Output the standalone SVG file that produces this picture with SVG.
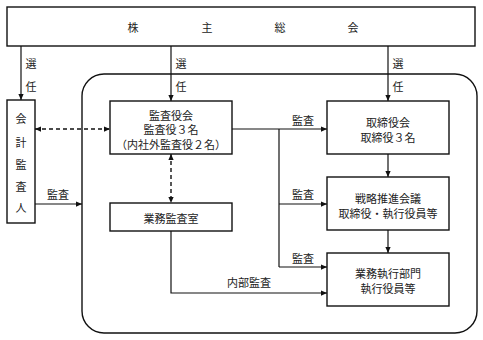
<svg xmlns="http://www.w3.org/2000/svg" width="483" height="340" viewBox="0 0 483 340">
<style>
text{font-family:"Noto Sans CJK JP","Noto Sans CJK SC",sans-serif;font-size:11px;fill:#222;text-anchor:middle;dominant-baseline:central}
.box{fill:#fff;stroke:#111;stroke-width:1.4}
.ln{fill:none;stroke:#111;stroke-width:1.2}
.dash{fill:none;stroke:#111;stroke-width:1.4;stroke-dasharray:4 3}
</style>
<defs>
<marker id="ah" viewBox="0 0 8 8" refX="8" refY="4" markerWidth="6" markerHeight="6" orient="auto-start-reverse" markerUnits="userSpaceOnUse">
<path d="M0,0.5 L8,4 L0,7.5 Z" fill="#111"/>
</marker>
</defs>
<rect id="container" x="82" y="74" width="395" height="259" rx="22" class="box" fill="none"/>
<g id="connectors">
<line x1="21" y1="46" x2="21" y2="100" class="ln" marker-end="url(#ah)"/>
<line x1="171" y1="46" x2="171" y2="101" class="ln" marker-end="url(#ah)"/>
<line x1="388" y1="46" x2="388" y2="101" class="ln" marker-end="url(#ah)"/>
<line x1="35" y1="129" x2="110" y2="129" class="dash" marker-start="url(#ah)" marker-end="url(#ah)"/>
<line x1="171" y1="154" x2="171" y2="203" class="dash" marker-start="url(#ah)" marker-end="url(#ah)"/>
<line x1="35" y1="204" x2="82" y2="204" class="ln" marker-end="url(#ah)"/>
<line x1="232" y1="129" x2="327" y2="129" class="ln" marker-end="url(#ah)"/>
<line x1="279" y1="129" x2="279" y2="267" class="ln"/>
<line x1="279" y1="204" x2="327" y2="204" class="ln" marker-end="url(#ah)"/>
<line x1="279" y1="267" x2="327" y2="267" class="ln" marker-end="url(#ah)"/>
<line x1="388" y1="154" x2="388" y2="177" class="ln" marker-end="url(#ah)"/>
<line x1="388" y1="230" x2="388" y2="253" class="ln" marker-end="url(#ah)"/>
<polyline points="171,231 171,293 327,293" class="ln" marker-end="url(#ah)"/>
<text x="31" y="63">選</text><text x="31" y="86">任</text>
<text x="181" y="63">選</text><text x="181" y="86">任</text>
<text x="398" y="63">選</text><text x="398" y="86">任</text>
<text x="58" y="194">監査</text>
<text x="303" y="120">監査</text>
<text x="303" y="194">監査</text>
<text x="303" y="258">監査</text>
<text x="249" y="282">内部監査</text>
</g>
<g id="shareholders">
<rect x="7" y="7" width="468" height="39" class="box"/>
<text x="133" y="27">株</text><text x="207" y="27">主</text><text x="280" y="27">総</text><text x="353" y="27">会</text>
</g>
<g id="auditor">
<rect x="7" y="100" width="28" height="123" class="box"/>
<text x="21" y="118">会</text><text x="21" y="142">計</text><text x="21" y="164">監</text><text x="21" y="186">査</text><text x="21" y="207">人</text>
</g>
<g id="kansayakukai">
<rect x="110" y="101" width="122" height="53" class="box"/>
<text x="171" y="114.5">監査役会</text>
<text x="171" y="129">監査役３名</text>
<text x="171" y="143.5">（内社外監査役２名）</text>
</g>
<g id="gyomukansa">
<rect x="110" y="203" width="122" height="28" class="box"/>
<text x="171" y="218">業務監査室</text>
</g>
<g id="torishimariyakukai">
<rect x="327" y="101" width="122" height="53" class="box"/>
<text x="388" y="122">取締役会</text>
<text x="388" y="137">取締役３名</text>
</g>
<g id="senryaku">
<rect x="327" y="177" width="122" height="53" class="box"/>
<text x="388" y="198">戦略推進会議</text>
<text x="388" y="213">取締役・執行役員等</text>
</g>
<g id="gyomushikko">
<rect x="327" y="253" width="122" height="53" class="box"/>
<text x="388" y="273">業務執行部門</text>
<text x="388" y="288">執行役員等</text>
</g>
</svg>
